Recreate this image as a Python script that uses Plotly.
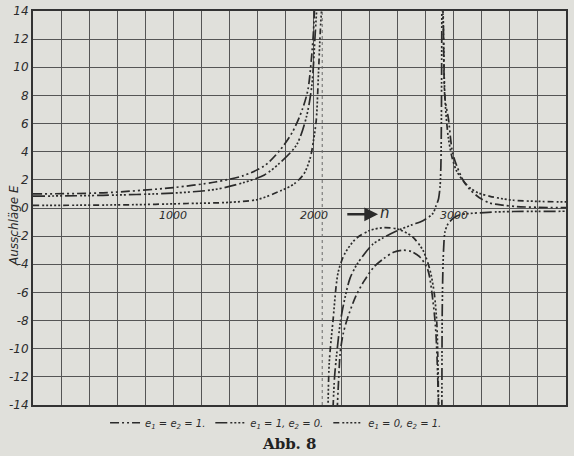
import plotly.graph_objects as go

# Drehzahl n und Ausschläge E (None = Resonanzstelle)
n_e1e2 = [0, 500, 1000, 1300, 1500, 1650, 1760, 1850, 1920, 1960, 1985, 2000, 2008, None,
          2168, 2180, 2190, 2210, 2240, 2300, 2360, 2430, 2500, 2570, 2640, 2700, 2760, 2815,
          2850, 2870, 2882, 2892, None,
          2920, 2925, 2937, 2961, 2990, 3021, 3070, 3116, 3180, 3258, 3350, 3450, 3600, 3800]
E_e1e2 = [1.0, 1.08, 1.45, 1.85, 2.3, 3.0, 4.1, 5.4, 7.0, 8.4, 10.6, 12.6, 14.5, None,
          -14.5, -12, -10.3, -9.0, -7.9, -6.3, -5.2, -4.2, -3.6, -3.15, -3.0, -3.1, -3.5, -4.4,
          -6.5, -8.5, -11, -14.5, None,
          14.5, 13.5, 7.8, 6.4, 4.0, 3.0, 1.9, 1.3, 0.75, 0.35, 0.2, 0.1, 0.05, 0.02]

n_e1 = [0, 500, 1000, 1300, 1500, 1650, 1760, 1880, 1950, 1988, 2012, 2025, None,
        2138, 2150, 2165, 2190, 2215, 2260, 2310, 2420, 2500, 2600, 2700, 2780, 2850, 2875,
        2890, 2902, 2908, 2911, 2913, 2915, None,
        2915, 2917, 2921, 2927, 2937, 2955, 2973, 3000, 3044, 3100, 3187, 3300, 3424, 3600, 3800]
E_e1 = [0.84, 0.9, 1.06, 1.32, 1.8, 2.35, 3.2, 4.5, 6.5, 8.7, 12.4, 14.5, None,
        -14.5, -12, -10.4, -8.2, -6.8, -5.0, -4.0, -2.6, -2.1, -1.6, -1.2, -0.9, -0.4, 0.2,
        0.6, 1.5, 3.0, 5.5, 9.0, 14.5, None,
        -14.5, -8, -5, -3, -1.7, -1.2, -0.95, -0.7, -0.48, -0.4, -0.34, -0.28, -0.25, -0.24, -0.23]

n_e2 = [0, 700, 1100, 1400, 1600, 1760, 1860, 1930, 1975, 2000, 2020, 2035, 2048, 2060, None,
        2103, 2112, 2139, 2175, 2220, 2300, 2400, 2500, 2600, 2700, 2780, 2830, 2860, 2878,
        2886, 2892, None,
        2920, 2925, 2937, 2961, 2990, 3021, 3070, 3116, 3180, 3258, 3350, 3424, 3600, 3800]
E_e2 = [0.18, 0.23, 0.32, 0.4, 0.6, 1.2, 1.7, 2.4, 3.5, 4.8, 6.3, 9.5, 12.5, 14.5, None,
        -14.5, -11, -8, -4.6, -3.3, -2.2, -1.6, -1.4, -1.5, -2.0, -3.0, -4.4, -6.0, -8.0,
        -10.5, -14.5, None,
        14.5, 13, 7.8, 5.0, 3.5, 2.6, 1.9, 1.42, 1.05, 0.83, 0.65, 0.55, 0.47, 0.43]

asymptote_n = [2062]
x_labels = [1000, 2000, 3000]
y_ticks = list(range(-14, 15, 2))
y_tick_text = [str(v) for v in y_ticks]

paper = 'rgb(224, 224, 219)'
ink = '#2b2b2b'

curves = [
    (n_e1e2, E_e1e2, 'e<sub>1</sub> = e<sub>2</sub> = 1.', '9px,3px,2px,3px,2px,3px'),
    (n_e1, E_e1, 'e<sub>1</sub> = 1, e<sub>2</sub> = 0.', '12px,3px,2px,2px,2px,2px,2px,2px,2px,3px'),
    (n_e2, E_e2, 'e<sub>1</sub> = 0, e<sub>2</sub> = 1.', '6px,3px,2px,2px,2px,2px,2px,2px,2px,2px,2px,3px'),
]

fig = go.Figure()
for xs, ys, name, dash in curves:
    fig.add_trace(go.Scatter(
        x=xs, y=ys, mode='lines', name=name,
        line=dict(color=ink, width=1.7, dash=dash, shape='spline', smoothing=0.8),
    ))

for a in asymptote_n:
    fig.add_vline(x=a, line=dict(color='#6a6a6a', width=1, dash='dot'))

for v in x_labels:
    fig.add_annotation(x=v, y=0, yshift=-7, text=str(v), showarrow=False,
                       font=dict(family='DejaVu Sans', size=11, color=ink, style='italic'))

# Pfeil "-> n"
fig.add_annotation(x=2460, y=-0.45, ax=2230, ay=-0.45, axref='x', ayref='y',
                   showarrow=True, arrowhead=2, arrowsize=1.1, arrowwidth=2.5,
                   arrowcolor=ink, text='')
fig.add_annotation(x=2510, y=-0.35, text='n', showarrow=False,
                   font=dict(family='DejaVu Sans', size=15, color=ink, style='italic'))

fig.add_annotation(x=-0.037, y=0.455, xref='paper', yref='paper', xanchor='center',
                   yanchor='middle', text='Ausschläge E', textangle=-90, showarrow=False,
                   font=dict(family='DejaVu Sans', size=12, color=ink, style='italic'))
fig.add_annotation(x=0.482, y=-0.10, xref='paper', yref='paper', yanchor='middle',
                   text='<b>Abb. 8</b>', showarrow=False,
                   font=dict(family='DejaVu Serif', size=15, color='#222'))

fig.update_layout(
    width=574, height=456,
    margin=dict(l=33, r=8, t=11, b=51, autoexpand=False),
    paper_bgcolor=paper,
    plot_bgcolor=paper,
    showlegend=True,
    legend=dict(orientation='h', x=0.456, xanchor='center', y=-0.045, yanchor='middle',
                bgcolor='rgba(0,0,0,0)',
                font=dict(family='DejaVu Sans', size=10, color=ink, style='italic')),
    xaxis=dict(
        range=[0, 3800], dtick=200, tick0=0,
        showgrid=True, gridcolor='#555', gridwidth=1,
        showticklabels=False, zeroline=False,
        showline=True, linecolor='#333', linewidth=2, mirror=True,
    ),
    yaxis=dict(
        range=[-14, 14], tickvals=y_ticks, ticktext=y_tick_text,
        showgrid=True, gridcolor='#555', gridwidth=1,
        zeroline=False, ticks='',
        tickfont=dict(family='DejaVu Sans', size=12, color=ink, style='italic'),
        showline=True, linecolor='#333', linewidth=2, mirror=True,
    ),
)

fig.write_html("out.html", config={'displayModeBar': False},
               post_script="document.body.style.margin='0';")
